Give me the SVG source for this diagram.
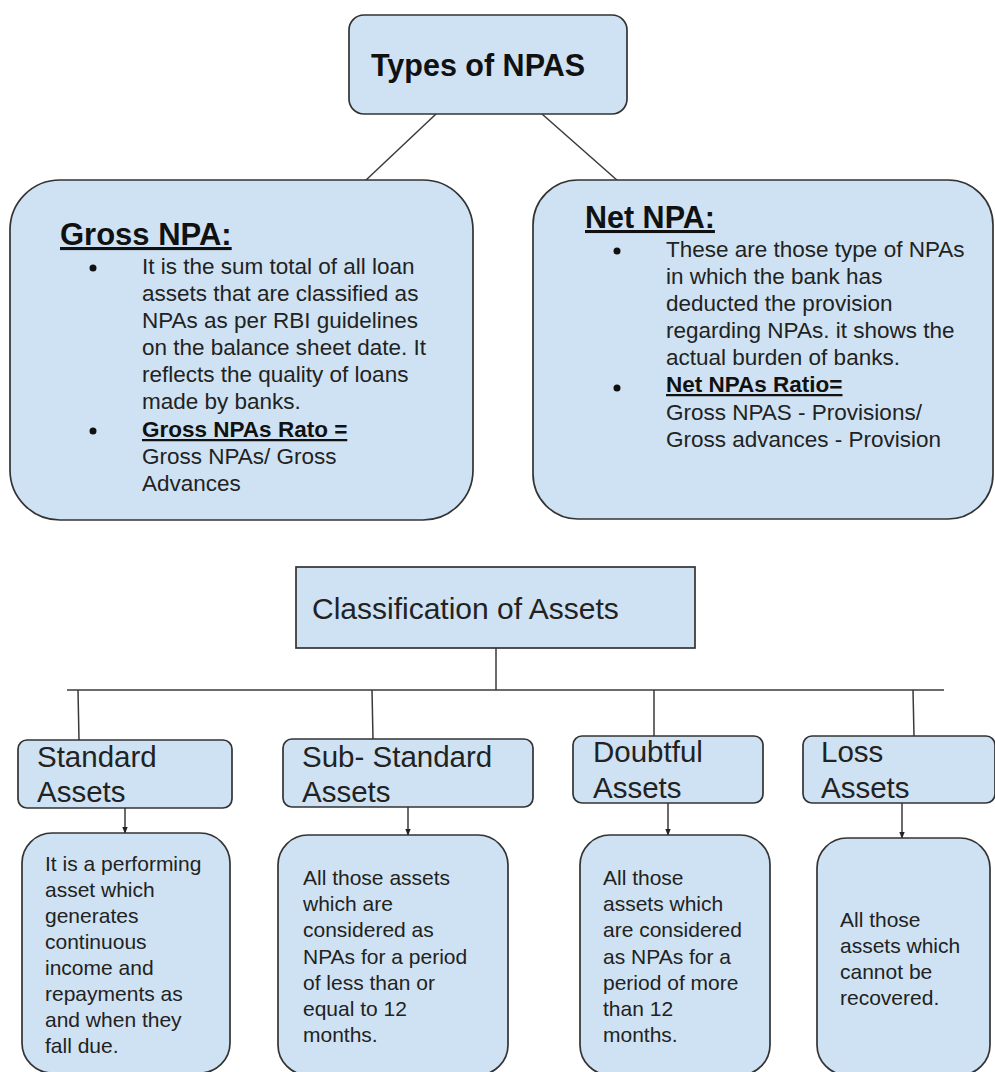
<svg xmlns="http://www.w3.org/2000/svg" width="995" height="1072" viewBox="0 0 995 1072">
<defs>
<style>
.box{fill:#cfe2f3;stroke:#333;stroke-width:1.7}
.t{font-family:"Liberation Sans",Arial,sans-serif;fill:#222}
.h{font-family:"Liberation Sans",Arial,sans-serif;font-weight:bold;fill:#111}
.c{stroke:#3a3a3a;stroke-width:1.5;fill:none}
</style>
<marker id="ah" viewBox="0 0 10 10" refX="9" refY="5" markerWidth="7" markerHeight="7" orient="auto" markerUnits="userSpaceOnUse">
<path d="M0,1 L10,5 L0,9 z" fill="#222"/>
</marker>
</defs>
<rect width="995" height="1072" fill="#fff"/>

<g id="connectors">
<line class="c" x1="436" y1="114" x2="365" y2="181"/>
<line class="c" x1="542" y1="114" x2="618" y2="181"/>
<line class="c" x1="496" y1="648" x2="496" y2="690"/>
<line class="c" x1="67" y1="690" x2="944" y2="690"/>
<line class="c" x1="78" y1="690" x2="79" y2="740"/>
<line class="c" x1="372" y1="690" x2="373" y2="739"/>
<line class="c" x1="654" y1="690" x2="654" y2="736"/>
<line class="c" x1="913" y1="690" x2="914" y2="736"/>
<line class="c" x1="125" y1="808" x2="125" y2="833" marker-end="url(#ah)"/>
<line class="c" x1="408" y1="807" x2="408" y2="835" marker-end="url(#ah)"/>
<line class="c" x1="668" y1="803" x2="668" y2="835" marker-end="url(#ah)"/>
<line class="c" x1="902" y1="803" x2="902" y2="838" marker-end="url(#ah)"/>
</g>

<g id="types">
<rect class="box" x="349" y="15" width="278" height="99" rx="15"/>
<text class="h" x="371" y="76" font-size="30.5">Types of NPAS</text>
</g>

<g id="gross">
<rect class="box" x="10" y="180" width="463" height="340" rx="50"/>
<text class="h" x="60" y="245" font-size="31" text-decoration="underline">Gross NPA:</text>
<circle cx="93" cy="268" r="3.5" fill="#111"/>
<circle cx="93" cy="431" r="3.5" fill="#111"/>
<text class="t" font-size="22.5">
<tspan x="142" y="274">It is the sum total of all loan</tspan>
<tspan x="142" y="301">assets that are classified as</tspan>
<tspan x="142" y="328">NPAs as per RBI guidelines</tspan>
<tspan x="142" y="355">on the balance sheet date. It</tspan>
<tspan x="142" y="382">reflects the quality of loans</tspan>
<tspan x="142" y="409">made by banks.</tspan>
</text>
<text class="h" x="142" y="437" font-size="22.5" text-decoration="underline">Gross NPAs Rato =</text>
<text class="t" font-size="22.5">
<tspan x="142" y="464">Gross NPAs/ Gross</tspan>
<tspan x="142" y="491">Advances</tspan>
</text>
</g>

<g id="net">
<rect class="box" x="533" y="180" width="460" height="339" rx="45"/>
<text class="h" x="585" y="228" font-size="30.5" text-decoration="underline">Net NPA:</text>
<circle cx="617" cy="251" r="3.5" fill="#111"/>
<circle cx="617" cy="388" r="3.5" fill="#111"/>
<text class="t" font-size="22.5">
<tspan x="666" y="257">These are those type of NPAs</tspan>
<tspan x="666" y="284">in which the bank has</tspan>
<tspan x="666" y="311">deducted the provision</tspan>
<tspan x="666" y="338">regarding NPAs. it shows the</tspan>
<tspan x="666" y="365">actual burden of banks.</tspan>
</text>
<text class="h" x="666" y="392" font-size="22.5" text-decoration="underline">Net NPAs Ratio=</text>
<text class="t" font-size="22.5">
<tspan x="666" y="420">Gross NPAS - Provisions/</tspan>
<tspan x="666" y="447">Gross advances - Provision</tspan>
</text>
</g>

<g id="classification">
<rect class="box" x="296" y="567" width="399" height="81"/>
<text class="t" x="312" y="619" font-size="30">Classification of Assets</text>
</g>

<g id="standard">
<rect class="box" x="18" y="740" width="214" height="68" rx="9"/>
<text class="t" font-size="29.5"><tspan x="37" y="767">Standard</tspan><tspan x="37" y="802">Assets</tspan></text>
</g>
<g id="substandard">
<rect class="box" x="283" y="739" width="250" height="68" rx="9"/>
<text class="t" font-size="29.5"><tspan x="302" y="767">Sub- Standard</tspan><tspan x="302" y="802">Assets</tspan></text>
</g>
<g id="doubtful">
<rect class="box" x="573" y="736" width="190" height="67" rx="9"/>
<text class="t" font-size="29.5"><tspan x="593" y="762">Doubtful</tspan><tspan x="593" y="798">Assets</tspan></text>
</g>
<g id="loss">
<rect class="box" x="803" y="736" width="192" height="67" rx="9"/>
<text class="t" font-size="29.5"><tspan x="821" y="762">Loss</tspan><tspan x="821" y="798">Assets</tspan></text>
</g>

<g id="standard-desc">
<rect class="box" x="22" y="833" width="208" height="240" rx="30"/>
<text class="t" font-size="21">
<tspan x="45" y="871">It is a performing</tspan>
<tspan x="45" y="897">asset which</tspan>
<tspan x="45" y="923">generates</tspan>
<tspan x="45" y="949">continuous</tspan>
<tspan x="45" y="975">income and</tspan>
<tspan x="45" y="1001">repayments as</tspan>
<tspan x="45" y="1027">and when they</tspan>
<tspan x="45" y="1053">fall due.</tspan>
</text>
</g>
<g id="substandard-desc">
<rect class="box" x="278" y="835" width="230" height="240" rx="30"/>
<text class="t" font-size="21">
<tspan x="303" y="885">All those assets</tspan>
<tspan x="303" y="911">which are</tspan>
<tspan x="303" y="937">considered as</tspan>
<tspan x="303" y="964">NPAs for a period</tspan>
<tspan x="303" y="990">of less than or</tspan>
<tspan x="303" y="1016">equal to 12</tspan>
<tspan x="303" y="1042">months.</tspan>
</text>
</g>
<g id="doubtful-desc">
<rect class="box" x="580" y="835" width="190" height="240" rx="30"/>
<text class="t" font-size="21">
<tspan x="603" y="885">All those</tspan>
<tspan x="603" y="911">assets which</tspan>
<tspan x="603" y="937">are considered</tspan>
<tspan x="603" y="964">as NPAs for a</tspan>
<tspan x="603" y="990">period of more</tspan>
<tspan x="603" y="1016">than 12</tspan>
<tspan x="603" y="1042">months.</tspan>
</text>
</g>
<g id="loss-desc">
<rect class="box" x="817" y="838" width="173" height="237" rx="30"/>
<text class="t" font-size="21">
<tspan x="840" y="927">All those</tspan>
<tspan x="840" y="953">assets which</tspan>
<tspan x="840" y="979">cannot be</tspan>
<tspan x="840" y="1005">recovered.</tspan>
</text>
</g>
</svg>
